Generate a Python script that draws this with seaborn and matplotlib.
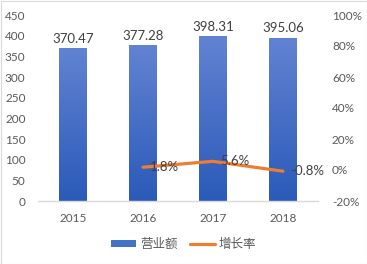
import numpy as np
import pandas as pd
import matplotlib
matplotlib.use("Agg")
import matplotlib.pyplot as plt
import seaborn as sns
from matplotlib.colors import LinearSegmentedColormap
from matplotlib.patches import Patch
from matplotlib.lines import Line2D

years = ["2015", "2016", "2017", "2018"]
revenue = [370.47, 377.28, 398.31, 395.06]
growth_years = ["2016", "2017", "2018"]
growth = [1.8, 5.6, -0.8]
growth_labels = ["1.8%", "5.6%", "-0.8%"]
bar_name = "营业额"
line_name = "增长率"

sns.set_theme(style="white")
plt.rcParams['font.family'] = ['Lato', 'Noto Sans CJK SC', 'DejaVu Sans']

fig = plt.figure(figsize=(3.67, 2.64), dpi=100)
fig.patch.set_facecolor("white")
ax = fig.add_axes([38/367, 1-201/264, 280/367, 186/264])

df = pd.DataFrame({"year": years, "revenue": revenue})
sns.barplot(data=df, x="year", y="revenue", ax=ax, color="#4472C4",
            width=0.39, saturation=1, order=years)

# gradient fill for bars
cmap = LinearSegmentedColormap.from_list("g", ["#2B5AB9", "#6283D2"])
grad = np.linspace(0, 1, 256).reshape(-1, 1)
for p in list(ax.patches):
    x0, y0 = p.get_x(), p.get_y()
    w, h = p.get_width(), p.get_height()
    p.set_facecolor("none")
    p.set_edgecolor("none")
    im = ax.imshow(grad, cmap=cmap, origin="lower", aspect="auto",
                   extent=[x0, x0 + w, y0, y0 + h], zorder=2)
    im.set_clip_path(p)

ax.set_xlim(-0.5, 3.5)
ax.set_ylim(0, 450)
ax.set_yticks(np.arange(0, 451, 50))
ax.set_xlabel("")
ax.set_ylabel("")
for s in ["top", "right", "left"]:
    ax.spines[s].set_visible(False)
ax.spines["bottom"].set_color("#D9D9D9")
ax.spines["bottom"].set_linewidth(1)
ax.tick_params(axis="y", length=0, pad=9, labelsize=8.5, labelcolor="#595959")
ax.tick_params(axis="x", length=0, pad=9, labelsize=8.5, labelcolor="#595959")

for i, v in enumerate(revenue):
    ax.text(i, v + 8, f"{v:.2f}", ha="center", va="bottom",
            fontsize=9.5, color="#404040")

ax2 = ax.twinx()
pos = [years.index(y) for y in growth_years]
gdf = pd.DataFrame({"pos": pos, "growth": growth})
sns.lineplot(data=gdf, x="pos", y="growth", ax=ax2, color="#ED7D31",
             linewidth=2.3, solid_capstyle="round")
ax2.set_ylim(-20, 100)
ax2.set_yticks(np.arange(-20, 101, 20))
ax2.set_yticklabels([f"{t}%" for t in range(-20, 101, 20)])
ax2.set_xlim(-0.5, 3.5)
ax2.set_xlabel("")
ax2.set_ylabel("")
for s in ["top", "right", "left", "bottom"]:
    ax2.spines[s].set_visible(False)
ax2.tick_params(axis="y", length=0, pad=10, labelsize=8.5, labelcolor="#595959")
ax2.grid(False)
ax.grid(False)

for x, v, lab in zip(pos, growth, growth_labels):
    ax2.annotate(lab, (x, v), xytext=(5, 0), textcoords="offset points",
                 ha="left", va="center", fontsize=9.5, color="#404040")

handles = [Patch(facecolor="#4472C4", edgecolor="none"),
           Line2D([0], [0], color="#ED7D31", linewidth=2.3)]
fig.legend(handles, [bar_name, line_name], loc="center",
           bbox_to_anchor=(0.5, 1-244/264), ncol=2, frameon=False,
           fontsize=9, labelcolor="#595959", handlelength=2.0,
           handleheight=0.5, columnspacing=1.0, handletextpad=0.3)

border = plt.Rectangle((0.5/367, 0.5/264), 1-1/367, 1-1/264,
                       transform=fig.transFigure, fill=False,
                       edgecolor="#D9D9D9", linewidth=0.8)
fig.add_artist(border)

fig.savefig("out.png", dpi=100, facecolor="white")
